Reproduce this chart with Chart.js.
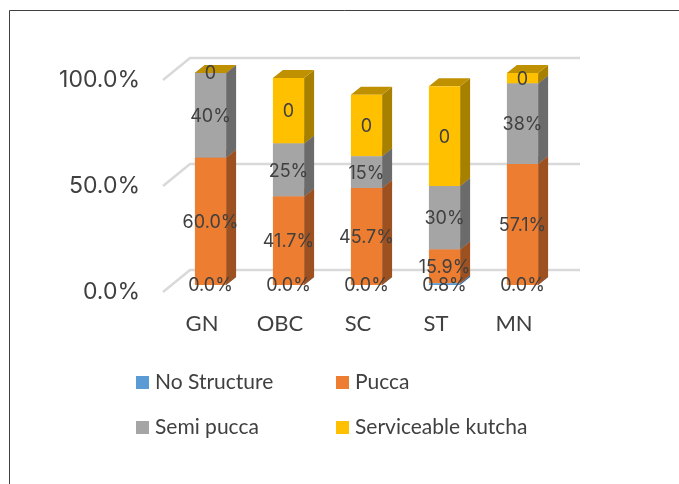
<!DOCTYPE html>
<html><head><meta charset="utf-8">
<style>html,body{margin:0;padding:0;background:#fff}canvas{display:block}</style>
<script src="https://cdn.jsdelivr.net/npm/chart.js@4"></script></head>
<body><canvas id="c" width="679" height="484"></canvas>
<script>
const categories = ['GN','OBC','SC','ST','MN'];
const noStructure = [0,0,0,0.8,0];
const pucca = [60,41.7,45.7,15.9,57.1];
const semiPucca = [40,25,15,30,38];
const serviceableKutcha = [0,31,29,47,4.9];
const noStructureLabels = ['0.0%','0.0%','0.0%','0.8%','0.0%'];
const puccaLabels = ['60.0%','41.7%','45.7%','15.9%','57.1%'];
const semiPuccaLabels = ['40%','25%','15%','30%','38%'];
const kutchaLabels = ['0','0','0','0','0'];
const tickValues = [0,50,100];

const TEXT='#404040', GRID='#d9d9d9';
const WALL_DX=27, WALL_DY=22, BAR_SHIFT_X=8.5, BAR_SHIFT_Y=7, BAR_DX=10, BAR_DY=8;
const tickFont='Inter', catFont='Lato';

function face(ctx,pts,color){ctx.beginPath();pts.forEach((p,i)=>i?ctx.lineTo(p[0],p[1]):ctx.moveTo(p[0],p[1]));ctx.closePath();ctx.fillStyle=color;ctx.fill();}

const frame3d={id:'frame3d',
 beforeDatasetsDraw(chart){
  const {ctx,chartArea:a,scales:{y}}=chart;
  ctx.save();
  ctx.strokeStyle=GRID;ctx.lineWidth=2.5;
  tickValues.forEach(v=>{const p=y.getPixelForValue(v);
   ctx.beginPath();ctx.moveTo(a.left,p);ctx.lineTo(a.left+WALL_DX,p-WALL_DY);ctx.lineTo(a.right+WALL_DX,p-WALL_DY);ctx.stroke();});
  ctx.restore();
  ctx.save();ctx.translate(BAR_SHIFT_X,-BAR_SHIFT_Y);
  chart.data.datasets.forEach((ds,i)=>{
   chart.getDatasetMeta(i).data.forEach(b=>{
    const l=b.x-b.width/2,r=b.x+b.width/2,t=Math.min(b.y,b.base),bt=Math.max(b.y,b.base);
    face(ctx,[[r,bt],[r+BAR_DX,bt-BAR_DY],[r+BAR_DX,t-BAR_DY],[r,t]],ds.sideColor);
    face(ctx,[[l,t],[r,t],[r+BAR_DX,t-BAR_DY],[l+BAR_DX,t-BAR_DY]],ds.topColor);
   });
  });
 },
 afterDatasetsDraw(chart){
  const {ctx}=chart;
  chart.data.datasets.forEach((ds,i)=>{
   chart.getDatasetMeta(i).data.forEach((b,j)=>{
    ctx.font='18px '+tickFont;ctx.fillStyle=TEXT;ctx.textAlign='center';ctx.textBaseline='middle';
    ctx.fillText(ds.valueLabels[j],b.x,(b.y+b.base)/2+1);
   });
  });
  ctx.restore();
 },
 afterDraw(chart){
  const {ctx}=chart;ctx.save();
  ctx.strokeStyle='#404040';ctx.lineWidth=1;ctx.beginPath();ctx.moveTo(9.5,484);ctx.lineTo(9.5,10.5);ctx.lineTo(679,10.5);ctx.stroke();
  const pos=[[136,376],[336,376],[136,421],[336,421]];
  chart.data.datasets.forEach((ds,i)=>{
   const [x,yy]=pos[i];
   ctx.fillStyle=ds.backgroundColor;ctx.fillRect(x,yy,13,13);
   ctx.font='21px '+catFont;ctx.fillStyle=TEXT;ctx.textAlign='left';ctx.textBaseline='middle';
   ctx.fillText(ds.label,x+19,yy+6);
  });
  ctx.restore();
 }
};

function ds(label,data,valueLabels,c,side,top){return {label,data,valueLabels,backgroundColor:c,sideColor:side,topColor:top,stack:'s',barPercentage:0.4,categoryPercentage:1};}

new Chart(document.getElementById('c'),{
 type:'bar',
 data:{labels:categories,datasets:[
  ds('No Structure',noStructure,noStructureLabels,'#5B9BD5','#3E6E9B','#4A80B0'),
  ds('Pucca',pucca,puccaLabels,'#ED7D31','#9E5120','#B5602A'),
  ds('Semi pucca',semiPucca,semiPuccaLabels,'#A5A5A5','#6B6B6B','#7C7C7C'),
  ds('Serviceable kutcha',serviceableKutcha,kutchaLabels,'#FFC000','#A88000','#BF9000')
 ]},
 options:{responsive:false,animation:false,
  layout:{padding:{left:0,right:126,top:80,bottom:0}},
  plugins:{legend:{display:false},tooltip:{enabled:false},title:{display:false}},
  scales:{
   x:{stacked:true,grid:{display:false},border:{display:false},
      ticks:{color:TEXT,font:{family:catFont,size:22},padding:11,maxRotation:0},
      afterFit(s){s.height=192;}},
   y:{stacked:true,min:0,max:100,grid:{display:false},border:{display:false},
      ticks:{stepSize:50,color:TEXT,font:{family:tickFont,size:23},padding:15,callback:v=>v.toFixed(1)+'%'},
      afterFit(s){s.width=163;}}
  }
 },
 plugins:[frame3d]
});
</script></body></html>
